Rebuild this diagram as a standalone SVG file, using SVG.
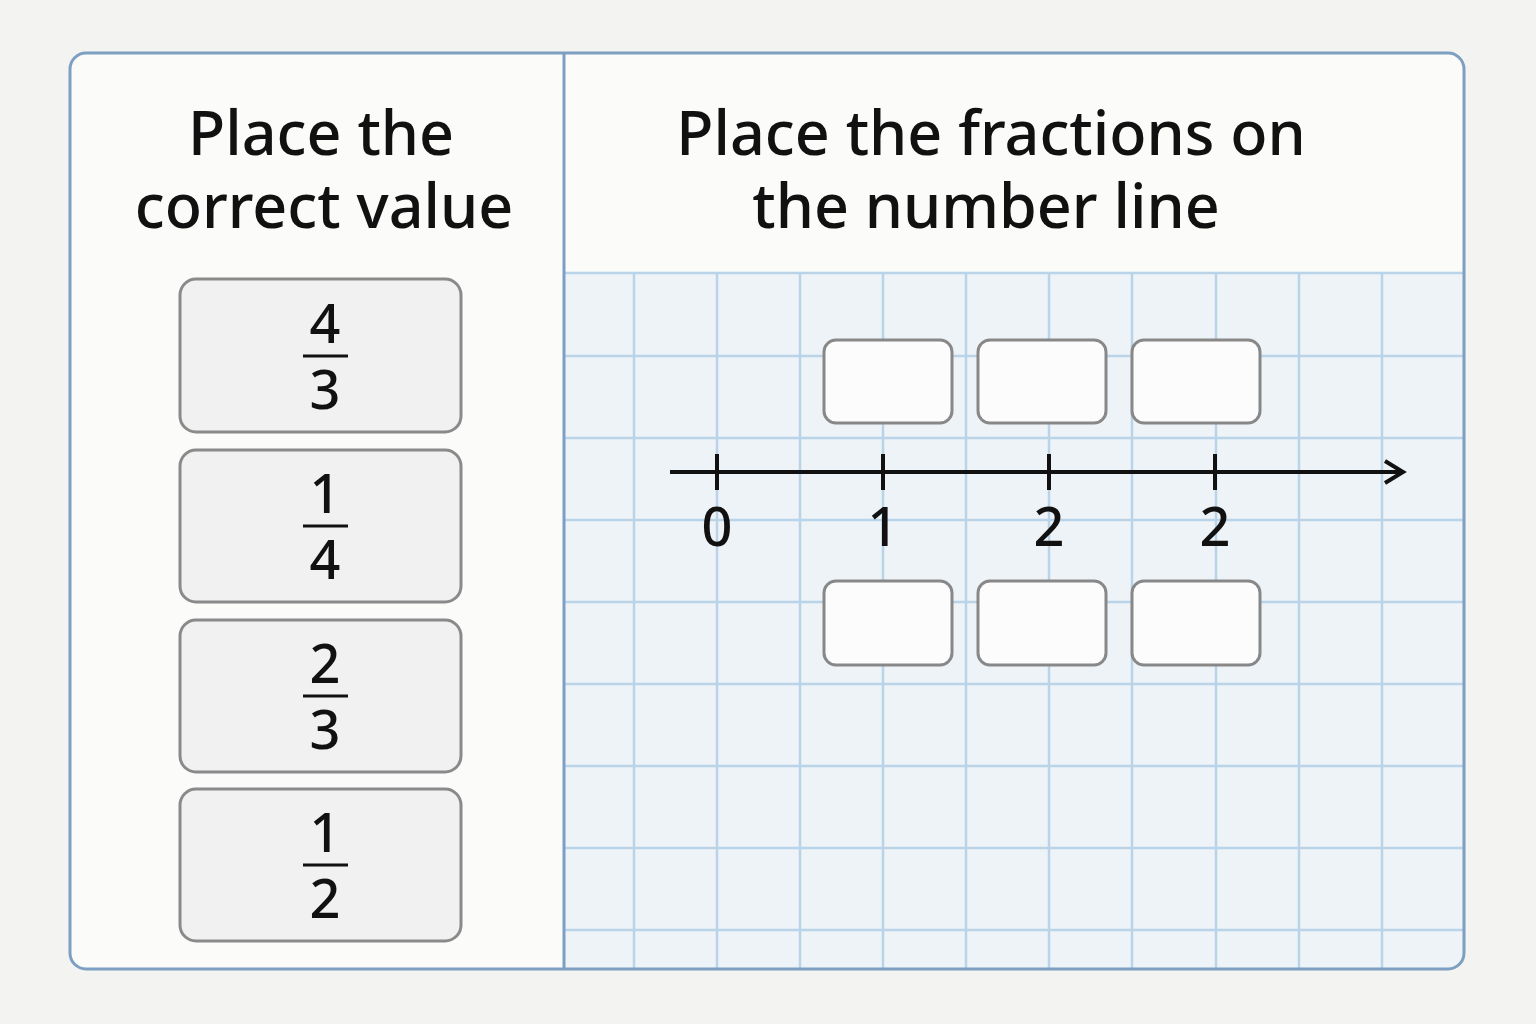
<svg xmlns="http://www.w3.org/2000/svg" width="1536" height="1024" viewBox="0 0 1536 1024">
<style>
.title{font-family:"Noto Sans","Open Sans",sans-serif;font-size:61px;font-weight:500;fill:#111;text-anchor:middle}
.num{font-family:"Noto Sans","Open Sans",sans-serif;font-size:54px;font-weight:500;fill:#111;text-anchor:middle}
.card{fill:#f1f1f1;stroke:#8a8a8a;stroke-width:3}
.slot{fill:#fcfcfc;stroke:#888;stroke-width:3}
.grid line{stroke:#b9d3e8;stroke-width:2.5}
.bar{stroke:#111;stroke-width:3}
.axis{stroke:#111;stroke-width:4;fill:none}
</style>
<rect width="1536" height="1024" fill="#f3f3f1"/>
<rect x="70" y="53" width="1394" height="916" rx="16" fill="#fbfbfa"/>
<g id="grid-area">
<path d="M565 273 H1464 V952 A16 16 0 0 1 1448 968 H565 Z" fill="#eef3f7"/>
<g class="grid">
<line x1="634" y1="273" x2="634" y2="968"/>
<line x1="717" y1="273" x2="717" y2="968"/>
<line x1="800" y1="273" x2="800" y2="968"/>
<line x1="883" y1="273" x2="883" y2="968"/>
<line x1="966" y1="273" x2="966" y2="968"/>
<line x1="1049" y1="273" x2="1049" y2="968"/>
<line x1="1132" y1="273" x2="1132" y2="968"/>
<line x1="1216" y1="273" x2="1216" y2="968"/>
<line x1="1299" y1="273" x2="1299" y2="968"/>
<line x1="1382" y1="273" x2="1382" y2="968"/>
<line x1="565" y1="273" x2="1464" y2="273"/>
<line x1="565" y1="356" x2="1464" y2="356"/>
<line x1="565" y1="438" x2="1464" y2="438"/>
<line x1="565" y1="520" x2="1464" y2="520"/>
<line x1="565" y1="602" x2="1464" y2="602"/>
<line x1="565" y1="684" x2="1464" y2="684"/>
<line x1="565" y1="766" x2="1464" y2="766"/>
<line x1="565" y1="848" x2="1464" y2="848"/>
<line x1="565" y1="930" x2="1464" y2="930"/>
</g>
</g>
<rect x="70" y="53" width="1394" height="916" rx="16" fill="none" stroke="#7c9fc2" stroke-width="3"/>
<line x1="564" y1="53" x2="564" y2="969" stroke="#7c9fc2" stroke-width="3"/>
<g id="left-title">
<text class="title" x="321" y="155">Place the</text>
<text class="title" x="324" y="228">correct value</text>
</g>
<g id="right-title">
<text class="title" x="991" y="155">Place the fractions on</text>
<text class="title" x="986" y="228">the number line</text>
</g>
<g id="card-4-3">
<rect class="card" x="180" y="279" width="281" height="153" rx="16"/>
<text class="num" x="325" y="343">4</text>
<line class="bar" x1="303" y1="356" x2="348" y2="356"/>
<text class="num" x="325" y="409">3</text>
</g>
<g id="card-1-4">
<rect class="card" x="180" y="450" width="281" height="152" rx="16"/>
<text class="num" x="325" y="513">1</text>
<line class="bar" x1="303" y1="526" x2="348" y2="526"/>
<text class="num" x="325" y="579">4</text>
</g>
<g id="card-2-3">
<rect class="card" x="180" y="620" width="281" height="152" rx="16"/>
<text class="num" x="325" y="683">2</text>
<line class="bar" x1="303" y1="696" x2="348" y2="696"/>
<text class="num" x="325" y="749">3</text>
</g>
<g id="card-1-2">
<rect class="card" x="180" y="789" width="281" height="152" rx="16"/>
<text class="num" x="325" y="852">1</text>
<line class="bar" x1="303" y1="865" x2="348" y2="865"/>
<text class="num" x="325" y="918">2</text>
</g>
<g id="slots">
<rect class="slot" x="824" y="340" width="128" height="83" rx="12"/>
<rect class="slot" x="978" y="340" width="128" height="83" rx="12"/>
<rect class="slot" x="1132" y="340" width="128" height="83" rx="12"/>
<rect class="slot" x="824" y="581" width="128" height="84" rx="12"/>
<rect class="slot" x="978" y="581" width="128" height="84" rx="12"/>
<rect class="slot" x="1132" y="581" width="128" height="84" rx="12"/>
</g>
<g id="number-line">
<line class="axis" x1="670" y1="472" x2="1402" y2="472"/>
<path class="axis" d="M1385 461 L1403 472 L1385 483"/>
<line class="axis" x1="717" y1="454" x2="717" y2="490"/>
<line class="axis" x1="883" y1="454" x2="883" y2="490"/>
<line class="axis" x1="1049" y1="454" x2="1049" y2="490"/>
<line class="axis" x1="1215" y1="454" x2="1215" y2="490"/>
<text class="num" x="717" y="546">0</text>
<text class="num" x="883" y="546">1</text>
<text class="num" x="1049" y="546">2</text>
<text class="num" x="1215" y="546">2</text>
</g>
</svg>
